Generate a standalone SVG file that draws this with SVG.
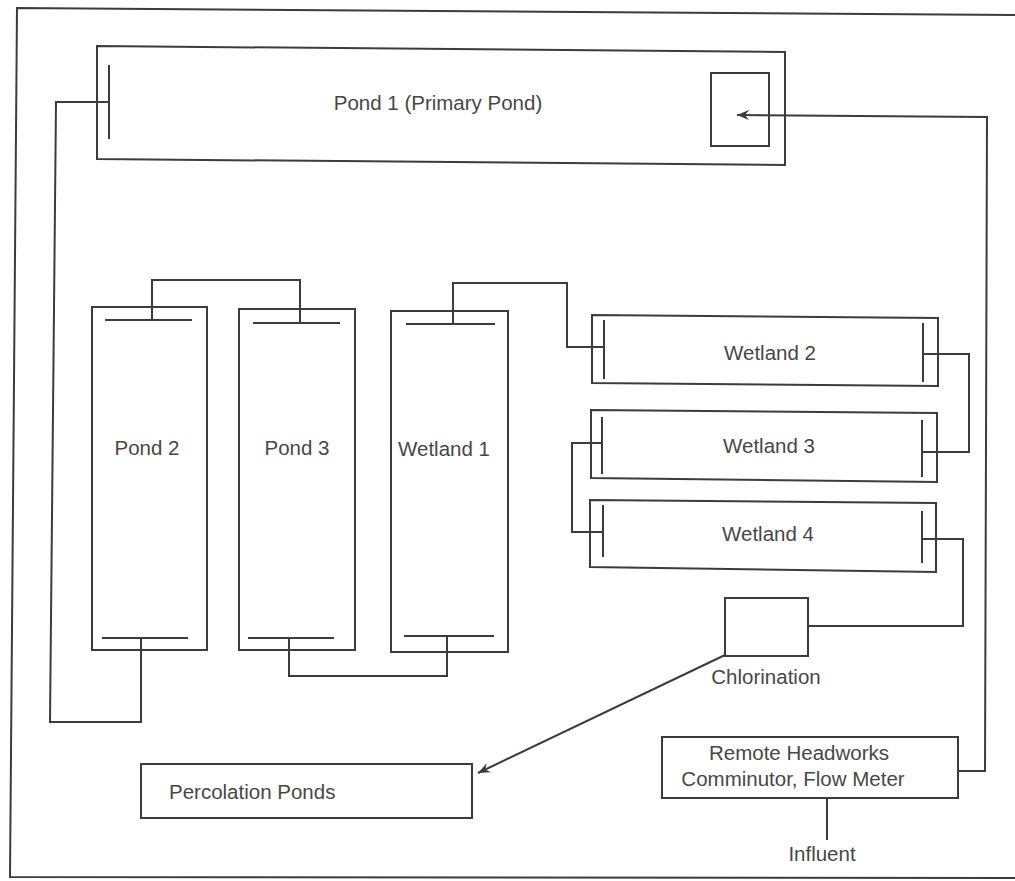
<svg xmlns="http://www.w3.org/2000/svg" width="1015" height="881" viewBox="0 0 1015 881">
<style>
.ln{fill:none;stroke:#3c3c3c;stroke-width:2;stroke-linejoin:miter}
.box{fill:none;stroke:#3c3c3c;stroke-width:2}
.bar{fill:none;stroke:#3c3c3c;stroke-width:2}
.t{font-family:"Liberation Sans",Arial,sans-serif;font-size:20.5px;fill:#474747;text-anchor:middle}
</style>
<defs>
<marker id="ah" viewBox="0 0 12 10" refX="12" refY="5" markerWidth="12" markerHeight="10" markerUnits="userSpaceOnUse" orient="auto">
<path d="M0,0 L12,5 L0,10 L4,5 z" fill="#3c3c3c"/>
</marker>
</defs>
<rect width="1015" height="881" fill="#ffffff"/>
<polyline class="ln" points="1015,15 17,8 10,877 1015,878"/>

<g id="connectors">
<polyline class="ln" points="152,320 152,280 300,280 300,323"/>
<polyline class="ln" points="289,638 289,676 447,676 447,636"/>
<polyline class="ln" points="453,324 453,283 567,283 567,347 604,347"/>
<polyline class="ln" points="923,354 969,354 969,452 922,452"/>
<polyline class="ln" points="602,443 572,443 572,532 603,532"/>
<polyline class="ln" points="922,539 963,539 963,626 808,626"/>
<line class="ln" x1="725" y1="655" x2="478" y2="773" marker-end="url(#ah)"/>
<polyline class="ln" points="958,771 985,771 987,117 737,115" marker-end="url(#ah)"/>
<polyline class="ln" points="141,638 141,722 50,722 56,102 109,102"/>
<line class="ln" x1="827" y1="798" x2="827" y2="840"/>
</g>

<g id="pond1">
<polygon class="box" points="97,46 785,52 785,165 97,159"/>
<line class="bar" x1="109" y1="65" x2="109" y2="139"/>
<rect class="box" x="711" y="73" width="58" height="73"/>
<text class="t" x="438" y="110">Pond 1 (Primary Pond)</text>
</g>

<g id="pond2">
<rect class="box" x="92" y="307" width="115" height="343"/>
<line class="bar" x1="105" y1="320" x2="192" y2="320"/>
<line class="bar" x1="102" y1="638" x2="188" y2="638"/>
<text class="t" x="147" y="455">Pond 2</text>
</g>

<g id="pond3">
<rect class="box" x="239" y="309" width="116" height="341"/>
<line class="bar" x1="253" y1="323" x2="340" y2="323"/>
<line class="bar" x1="248" y1="638" x2="334" y2="638"/>
<text class="t" x="297" y="455">Pond 3</text>
</g>

<g id="wetland1">
<rect class="box" x="391" y="311" width="117" height="341"/>
<line class="bar" x1="406" y1="324" x2="495" y2="324"/>
<line class="bar" x1="404" y1="636" x2="494" y2="636"/>
<text class="t" x="444" y="456">Wetland 1</text>
</g>

<g id="wetland2">
<polygon class="box" points="592,315 938,318 938,386 592,383"/>
<line class="bar" x1="604" y1="320" x2="604" y2="379"/>
<line class="bar" x1="923" y1="323" x2="923" y2="382"/>
<text class="t" x="770" y="360">Wetland 2</text>
</g>

<g id="wetland3">
<polygon class="box" points="591,410 937,413 937,482 591,478"/>
<line class="bar" x1="602" y1="417" x2="602" y2="474"/>
<line class="bar" x1="922" y1="420" x2="922" y2="477"/>
<text class="t" x="769" y="453">Wetland 3</text>
</g>

<g id="wetland4">
<polygon class="box" points="590,500 936,503 936,572 590,567"/>
<line class="bar" x1="603" y1="505" x2="603" y2="557"/>
<line class="bar" x1="922" y1="511" x2="922" y2="563"/>
<text class="t" x="768" y="541">Wetland 4</text>
</g>

<g id="chlorination">
<rect class="box" x="725" y="598" width="83" height="58"/>
<text class="t" x="766" y="684">Chlorination</text>
</g>

<g id="headworks">
<rect class="box" x="662" y="737" width="296" height="61"/>
<text class="t" x="799" y="760">Remote Headworks</text>
<text class="t" x="793" y="786">Comminutor, Flow Meter</text>
</g>

<g id="influent">
<text class="t" x="822" y="861">Influent</text>
</g>

<g id="percolation">
<rect class="box" x="141" y="764" width="331" height="54"/>
<text class="t" x="169" y="799" style="text-anchor:start">Percolation Ponds</text>
</g>
</svg>
